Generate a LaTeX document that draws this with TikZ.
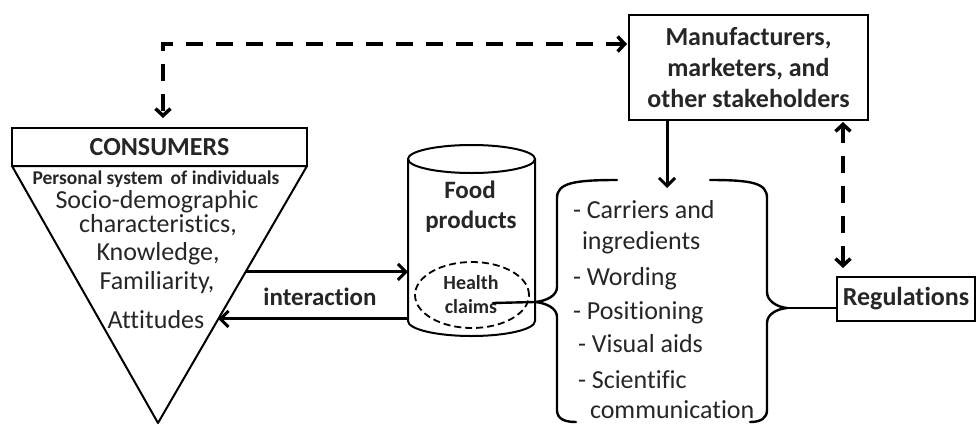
\documentclass[tikz,border=0pt]{standalone}
\usepackage{fontspec}
\setmainfont{Carlito}[Ligatures=NoCommon]
\usetikzlibrary{arrows.meta,calc,shapes.geometric}
\begin{document}
\begin{tikzpicture}[x=1pt,y=-1pt,
  box/.style={draw, line width=2.3pt, inner sep=0pt, outer sep=0pt, text=black!85},
  bigb/.style={font=\fontsize{26}{31}\selectfont\bfseries},
  txt/.style={inner sep=0pt, outer sep=0pt, text=black!85, font=\fontsize{26}{31}\selectfont},
  arr/.style={line width=3pt, -{Straight Barb[length=8pt,width=16pt,line width=3pt]}},
  dasharr/.style={line width=3.5pt, dash pattern=on 17pt off 13pt,
     {Straight Barb[length=7pt,width=15pt,line width=3.5pt]}-{Straight Barb[length=7pt,width=15pt,line width=3.5pt]}},
  shape line/.style={line width=2pt},
  brace/.style={line width=2.4pt, line cap=round, line join=round}]
\useasboundingbox (0,0) rectangle (978,424);

% ---------------- consumers
\node[box, bigb, minimum width=295pt, minimum height=38pt] (cons) at (159.5,147) {CONSUMERS};
\coordinate (apex) at (158,423);
\draw[shape line, line join=round] (cons.south west) -- (cons.south east) -- (apex) -- cycle;
\node[txt, anchor=base, font=\fontsize{19.5}{22}\selectfont\bfseries] (pers) at (156,184) {Personal system\, of individuals};
\node[txt, anchor=base] (c1) at (157,208) {Socio-demographic};
\node[txt, anchor=base] (c2) at (158,232) {characteristics,};
\node[txt, anchor=base] (c3) at (158,260) {Knowledge,};
\node[txt, anchor=base] (c4) at (157,289) {Familiarity,};
\node[txt, anchor=base] (c5) at (156,328) {Attitudes};

% ---------------- food products cylinder
\node[minimum width=127pt, minimum height=162pt, inner sep=0pt, outer sep=0pt] (food) at (471.5,240) {};
\draw[shape line] (food.north west) -- (food.south west)
   arc[start angle=180, end angle=360, x radius=63.5pt, y radius=15pt] -- (food.north east);
\draw[shape line] (food.north) ellipse [x radius=63.5pt, y radius=14pt];
\node[txt, anchor=base, font=\fontsize{25}{30}\selectfont\bfseries] (fd1) at (470,198) {Food};
\node[txt, anchor=base, font=\fontsize{25}{30}\selectfont\bfseries] (fd2) at (471,228) {products};
\node[draw, ellipse, line width=1.8pt, dash pattern=on 7pt off 4pt,
      minimum width=114pt, minimum height=66pt, inner sep=0pt] (hc) at (472,295) {};
\node[txt, anchor=base, font=\fontsize{20}{24}\selectfont\bfseries] (hc1) at (471,289) {Health};
\node[txt, anchor=base, font=\fontsize{20}{24}\selectfont\bfseries] (hc2) at (471,313) {claims};

% ---------------- interaction arrows
\coordinate (e1) at ($(cons.south east)!0.412!(apex)$);
\coordinate (e2) at ($(cons.south east)!0.595!(apex)$);
\draw[arr] (e1) -- (e1 -| food.west);
\draw[arr] (e2 -| food.west) -- (e2);
\node[txt, anchor=base, font=\fontsize{25}{30}\selectfont\bfseries] (inter) at (320,305) {interaction};

% ---------------- manufacturers
\node[box, align=center, font=\fontsize{26}{31}\selectfont\bfseries,
      minimum width=239pt, minimum height=105pt] (mfr) at (748.5,67.5)
      {Manufacturers,\\marketers, and\\other stakeholders};

% ---------------- regulations
\node[box, bigb, minimum width=138pt, minimum height=44pt] (reg) at (906,299) {Regulations};

% ---------------- list with braces
\coordinate (ltip) at (535,302);
\coordinate (rtip) at (787,308);
\draw[brace] (617,180) .. controls (574,180) and (557,183) .. (557,198)
   -- (557,287) .. controls (557,296) and (546,301) .. (ltip)
   .. controls (546,303) and (557,308) .. (557,317)
   -- (557,410) .. controls (557,418) and (563,422) .. (576,422);
\draw[brace] (ltip) -- ($(hc.center)+(21,8)$);
\draw[brace] (710,180) .. controls (752,180) and (767,183) .. (767,198)
   -- (767,292) .. controls (767,301) and (777,307) .. (rtip)
   .. controls (777,309) and (767,314) .. (767,323)
   -- (767,410) .. controls (767,418) and (761,422) .. (750,422);
\draw[brace] (rtip) -- (reg.west |- rtip);

\node[txt, anchor=base west] (l1) at (573,218) {- Carriers and};
\node[txt, anchor=base west] (l2) at (582,249) {ingredients};
\node[txt, anchor=base west] (l3) at (573,285) {- Wording};
\node[txt, anchor=base west] (l4) at (573,319) {- Positioning};
\node[txt, anchor=base west] (l5) at (578,352) {- Visual aids};
\node[txt, anchor=base west] (l6) at (578,388) {- Scientific};
\node[txt, anchor=base west] (l7) at (590,418) {communication};

% ---------------- connectors
\coordinate (ax) at (667,188);
\draw[arr] (mfr.south -| ax) -- (ax);
\coordinate (dk) at (163,44);
\draw[dasharr, shorten <=2pt, shorten >=10pt] (mfr.west |- dk) -- (dk) -- (dk |- cons.north);
\coordinate (rx) at (843,200);
\draw[dasharr, shorten <=2pt, shorten >=9pt] (mfr.south -| rx) -- (reg.north -| rx);
\end{tikzpicture}
\end{document}
